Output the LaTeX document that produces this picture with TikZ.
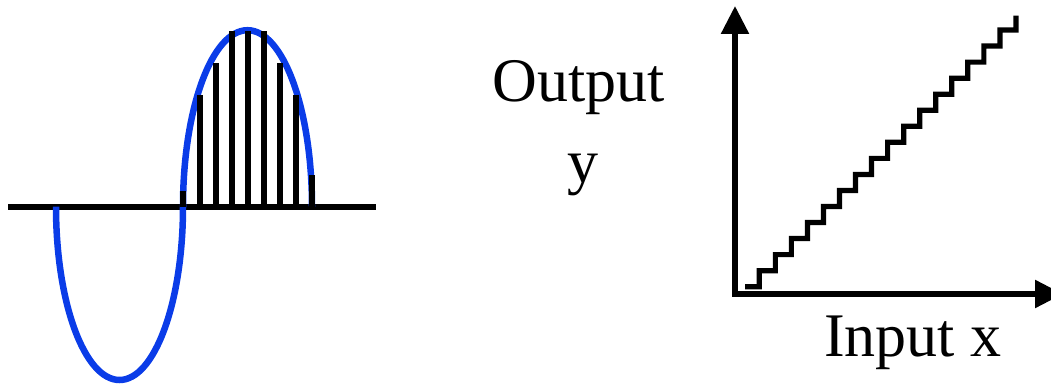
\documentclass[tikz,border=0pt]{standalone}
\usepackage{fontspec}
\setmainfont{Liberation Serif}
\usetikzlibrary{arrows.meta}
\definecolor{waveblue}{RGB}{10,60,232}
\begin{document}
\begin{tikzpicture}[x=1pt,y=1pt,
  hline/.style={line width=6pt},
  wave/.style={draw=waveblue,line width=6.5pt},
  sample/.style={line width=6pt},
  axisline/.style={line width=5.5pt,miter limit=10,-{Triangle[length=28pt,width=27pt]}},
  stairline/.style={line width=5.2pt,miter limit=10},
  lbl/.style={font=\fontsize{62}{74}\selectfont,inner sep=0pt}]
\useasboundingbox (0,0) rectangle (1051,388);
\clip (0,0) rectangle (1051,388);
% ---- left: sampled wave
\coordinate (a0) at (8,181.3);
\coordinate (a1) at (376,181.3);
\draw[hline] (a0) -- (a1);
\coordinate (w0) at (56,181.3);
\draw[wave] (w0) arc[start angle=180,end angle=360,x radius=63.5,y radius=173.3]
                 arc[start angle=180,end angle=0,x radius=64.5,y radius=176.5];
\foreach \x/\t in {183.3/197,200/293,216/325.3,232/357,248/357,264/357,280/325,296/293,312/213}{
  \draw[sample] (\x,181.3) -- (\x,\t);
}
% ---- right: transfer characteristic
\coordinate (o) at (735,94);
\coordinate (ytip) at (735,382);
\coordinate (xtip) at (1063,94);
\draw[axisline] (o) -- (ytip);
\draw[axisline] ([xshift=-2.75pt]o) -- (xtip);
\coordinate (s0) at (745,101.3);
\draw[stairline] (s0)
  \foreach \k in {1,...,16}{ -- ({759.3+(\k-1)*16.04},{101.3+(\k-1)*16.04}) -- ++(0,16.04) }
  -- (1016,358) -- (1016,372.3);
% ---- labels
\node[lbl,anchor=base] (out) at (579,286.3) {Output};
\node[lbl,anchor=base] (outy) at (583,205) {y};
\node[lbl,anchor=base] (in) at (913,31.3) {Input x};
\end{tikzpicture}
\end{document}
